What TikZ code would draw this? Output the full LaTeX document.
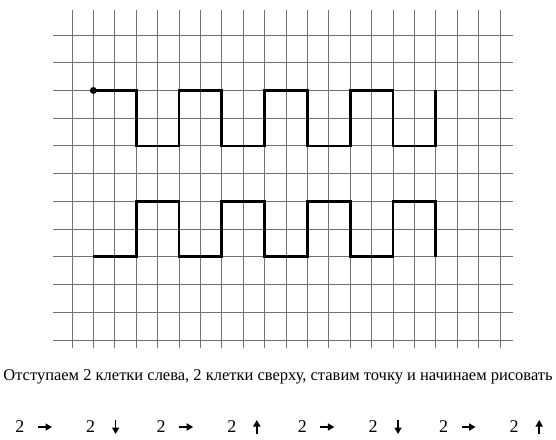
\documentclass[tikz,border=0pt]{standalone}
\usepackage{fontspec}
\setmainfont{Liberation Serif}
\usetikzlibrary{arrows.meta,positioning,calc}

\begin{document}
\begin{tikzpicture}[x=1pt, y=-1pt,
    gridline/.style={draw=black!55, line width=1pt},
    wave/.style={draw=black, line width=2.8pt, line join=miter},
    hint/.style={font=\fontsize{16.5}{19}\selectfont, inner sep=0pt},
    num/.style={font=\fontsize{18}{21}\selectfont, inner sep=0pt},
    dir/.style={-{Triangle[length=6.5pt, width=7pt]}, line width=1.5pt},
    >=Stealth
]
    \useasboundingbox (0,0) rectangle (556,439);

    % Grid paper
    \foreach \i in {0,...,20}
        \draw[gridline] ({72+21.4*\i},10) -- ({72+21.4*\i},348);
    \foreach \j in {0,...,11}
        \draw[gridline] (53,{35+27.73*\j}) -- (513,{35+27.73*\j});

    % Square waves, in cells
    \begin{scope}[shift={(72,35)}, x=21.4pt, y=-27.73pt]
        \node[circle, fill, inner sep=0pt, minimum size=7pt] (start) at (1,2) {};
        \draw[wave] (start.center) \foreach \k in {3,7,11,15} {-- (\k,2) -- (\k,4) -- (\k+2,4) -- (\k+2,2)};
        \draw[wave] (1,8) \foreach \k in {3,7,11,15} {-- (\k,8) -- (\k,6) -- (\k+2,6) -- (\k+2,8)};
    \end{scope}

    % Instruction
    \node[hint] (task) at (278,377) {Отступаем 2 клетки слева, 2 клетки сверху, ставим точку и начинаем рисовать};

    % Steps
    \foreach \dx/\dy [count=\n from 0] in {1/0, 0/1, 1/0, 0/-1, 1/0, 0/1, 1/0, 0/-1} {
        \node[num] (n\n) at ({20+70.6*\n},427) {2};
        \draw[dir] ([shift={({25-7*\dx},{-7*\dy})}]n\n.center) -- ++({14*\dx},{14*\dy});
    }
\end{tikzpicture}
\end{document}
